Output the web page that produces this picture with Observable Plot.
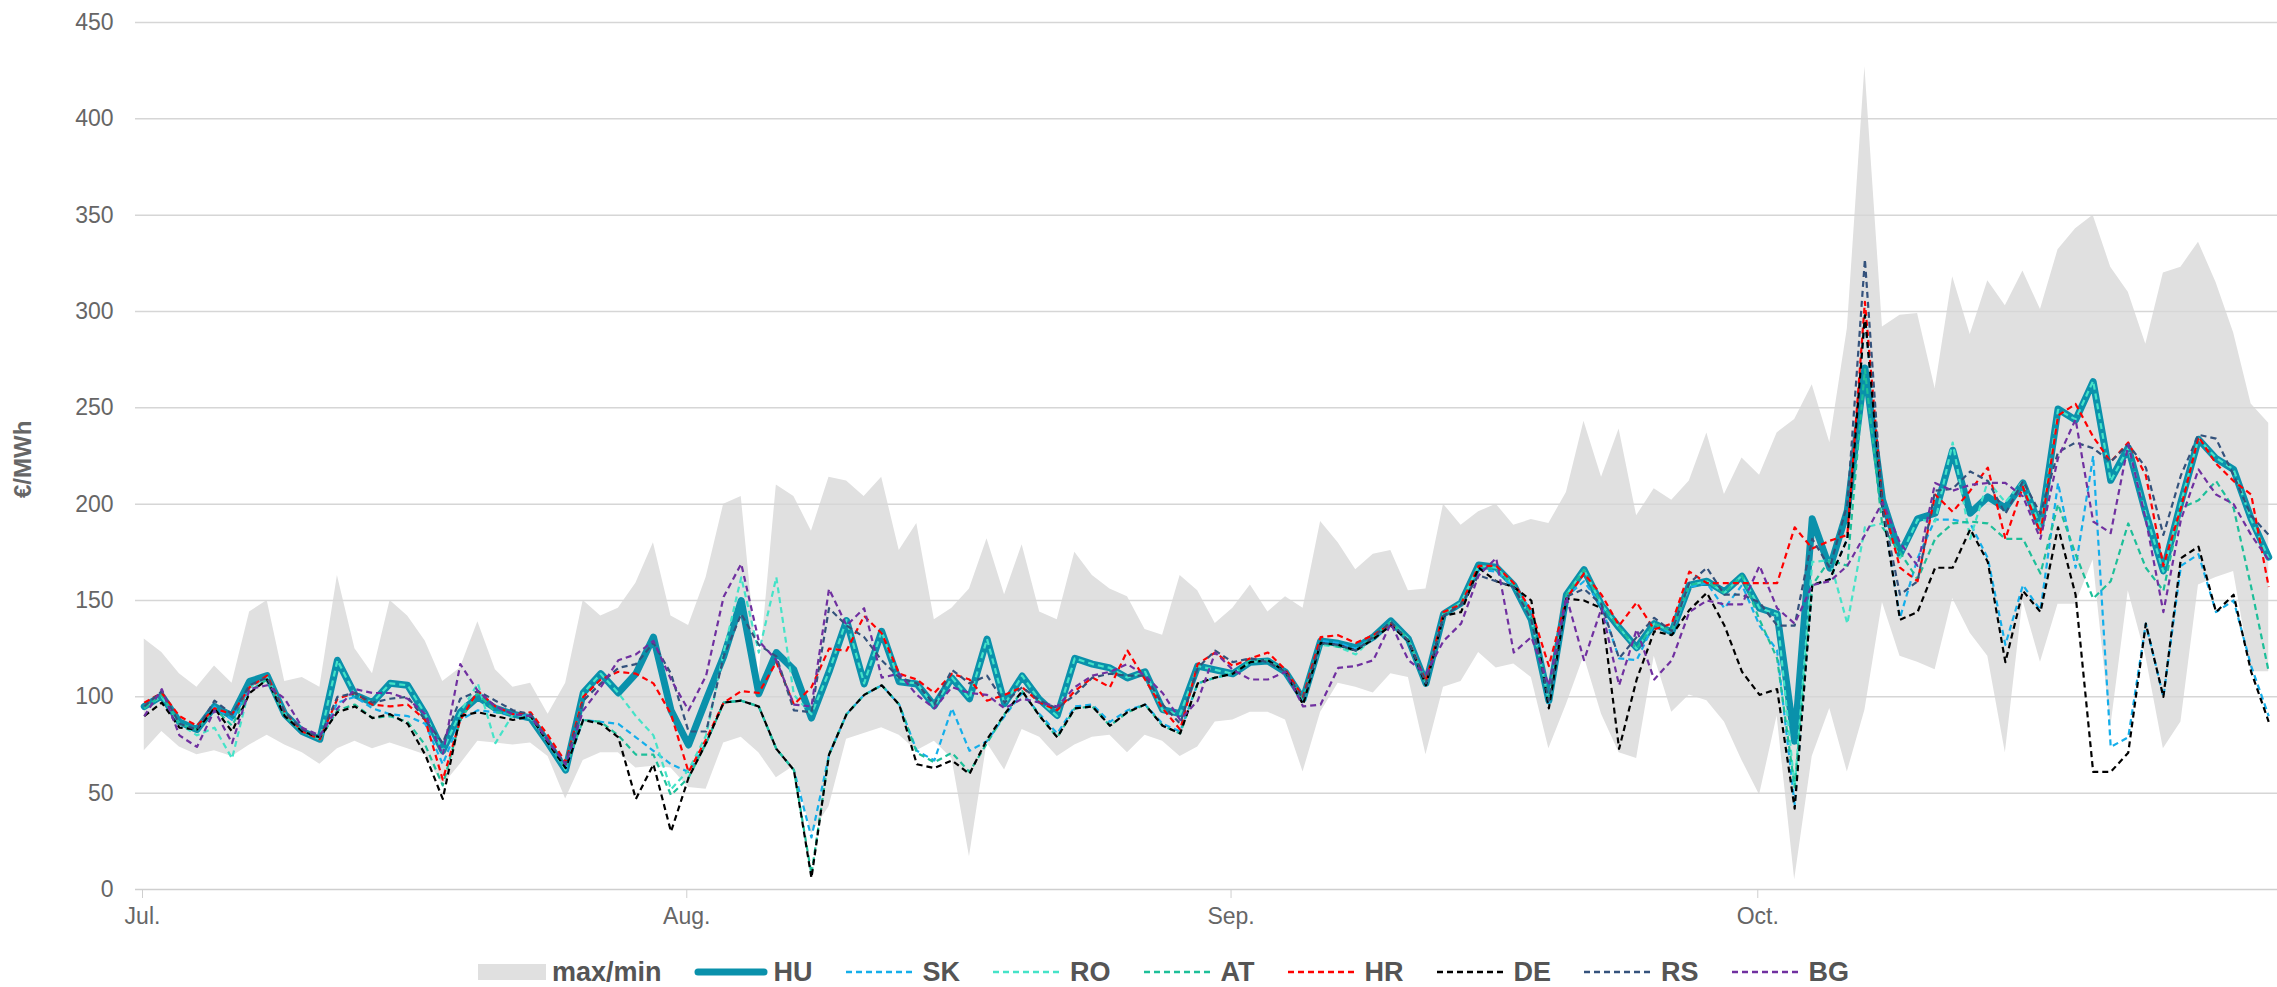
<!DOCTYPE html>
<html>
<head>
<meta charset="utf-8">
<script src="https://cdn.jsdelivr.net/npm/d3@7"></script>
<script src="https://cdn.jsdelivr.net/npm/@observablehq/plot@0.6"></script>
<style>
  html, body { margin: 0; padding: 0; background: #fff; }
  #chart { width: 2277px; height: 935px; }
  #legend { width: 2277px; height: 52px; display: flex; justify-content: center; align-items: center;
            box-sizing: border-box; padding-top: 22px; padding-left: 50px;
            font-family: "Liberation Sans", Arial, sans-serif; font-size: 27px; font-weight: bold; color: #555; }
  .item { display: flex; align-items: center; margin-right: 32px; }
  .item:last-child { margin-right: 0; }
  .item svg { margin-right: 6px; }
</style>
</head>
<body>
<div id="chart"></div>
<div id="legend"></div>
<script>
// ---- categories ----
const startDay = [2021, 6, 1]; // 1 July 2021 (daily values)
const monthTickDates = ["2021-07-01", "2021-08-01", "2021-09-01", "2021-10-01"];
const monthLabels = ["Jul.", "Aug.", "Sep.", "Oct."];
const yTicks = [0, 50, 100, 150, 200, 250, 300, 350, 400, 450];
const seriesNames = ["HU", "SK", "RO", "AT", "HR", "DE", "RS", "BG"];

// ---- values (€/MWh) ----
const MAX = [130,123,112,105,116,107,144,150,108,110,105,163,125,112,150,142,
  129,108,115,139,114,105,107,91,107,150,142,146,159,180,142,137,
  162,200,204,110,210,204,186,214,212,204,214,176,190,140,146,156,
  182,153,179,144,140,175,163,156,152,135,132,163,155,138,146,158,
  144,152,146,191,180,166,174,176,155,156,200,189,196,200,189,192,
  190,206,243,214,239,194,208,202,212,237,205,224,215,237,
  244,262,232,291,427,292,298,299,260,318,288,316,303,321,
  301,332,343,350,323,310,283,320,323,336,315,289,252,242];
const MIN = [72,82,74,70,72,69,75,80,75,71,65,73,77,73,76,73,
  70,54,65,77,76,75,76,69,47,67,71,71,63,64,63,53,
  52,76,79,71,58,64,29,43,78,81,84,80,72,77,68,17,
  76,62,83,79,69,75,79,80,71,80,77,69,74,87,88,92,
  92,88,61,92,107,105,102,112,110,70,105,108,123,115,117,110,
  73,96,121,91,71,68,121,92,101,98,87,67,49,90,
  5,69,94,61,93,149,121,118,114,151,133,121,71,150,
  118,148,148,171,84,155,121,73,87,158,162,165,113,113];
const HU = [95,100.5,87,83,95,90,108,111,91,82,78,119,101,97,107,106,
  91,72,92,100,94,91,89,76,62,102,112,102,112,131,93,75,
  98.5,121,150,101.6,123,114,89,113,139.6,106.7,134,107.8,106.7,95.4,109.8,99,
  130,96.5,110.8,98.5,90.3,120,117,115,109.8,113,93.4,91.3,116,114,112,118,
  118.6,112.8,98.8,129,127.8,125.5,131,139.4,130,107,143,148.7,168.4,167.3,158,140,
  98,153,166,147.6,136,125.5,138,133.6,158,160,154.5,162.6,146,143,
  77,192.4,166.8,196.7,270.7,202.4,174,192.4,195.3,228,195.3,203.8,198,211,
  188,249.4,243.7,263.6,212.4,229.4,195.3,165.4,201,233.7,223.7,218,192.4,172.5];
const SK = [94,101,86,83,95,88,105,110,91,82,78,97,100,94,91,90,
  86,65,88,93,92,91,90,76,62,88,87,86,79,72,65,61,
  76,97,98,95,73,62,27,70,91,101,106,96,72,67,94,72,
  77,90,102,91,81,95,96,87,93,96,86,82,107,110,112,119,
  119,113,99,129,128,125,131,139,130,107,143,149,166,165,157,145,
  97,152,160,147,120,119,138,133,157,159,146,158,137,124,
  44,158,161,182,298,198,141,172,192,192,190,172,127,158,
  145,211,167,225,74,79,138,100,168,174,144,150,116,90];
const RO = [95,100,86,80,84,68,105,110,91,82,78,119,101,97,107,106,
  91,72,92,107,76,91,89,76,62,102,112,102,90,80,52,62,
  80,123,162,123,162,101,91,113,140,107,134,108,107,95,110,99,
  130,96,111,98,90,120,117,115,110,113,93,91,116,114,112,118,
  119,113,99,127,126,122,131,139,130,107,143,149,168,167,158,140,
  98,153,166,148,136,125,138,134,158,160,154,163,146,143,
  53,170,171,138,188,190,172,192,191,232,182,212,201,212,
  188,249,244,264,212,229,195,165,201,234,224,218,192,172];
const AT = [94,101,86,83,94,85,103,109,90,82,78,93,96,89,90,87,
  75,54,88,102,92,91,90,76,63,88,87,80,70,70,49,58,
  76,97,98,95,73,62,8,70,91,101,106,96,71,66,71,61,
  76,91,103,90,79,94,95,85,92,96,85,81,107,110,112,119,
  119,113,99,128,126,124,131,139,130,107,143,149,168,166,158,142,
  98,153,166,148,136,125,138,134,158,160,154,163,140,120,
  53,158,171,168,270,188,175,161,182,190,191,190,182,182,
  164,200,174,151,160,190,167,155,198,202,212,198,157,113];
const HR = [97,102,90,85,94,91,105,111,92,82,78,99,102,96,95,96,
  88,57,88,103,95,91,92,80,66,100,109,113,112,107,91,61,
  78,97,103,102,118,96,105,125,124,142,133,112,109,102,112,109,
  98,101,105,97,93,103,110,105,124,109,94,83,117,123,116,120,
  123,114,100,131,132,128,132,138,129,108,144,148,168,168,159,145,
  116,151,164,153,137,149,135,138,165,159,159,159,159,159,
  188,177,181,184,305,201,167,160,205,196,207,219,182,209,
  185,246,252,235,222,232,215,168,198,235,221,212,205,157];
const DE = [90,97,84,83,94,82,102,109,90,82,79,92,95,89,91,86,
  70,47,90,92,90,88,90,76,63,88,86,79,47,65,30,58,
  76,97,98,95,73,62,6,70,91,101,106,96,65,63,67,60,
  78,91,103,90,79,94,95,85,92,96,85,81,107,110,112,118,
  119,113,96,128,127,124,130,137,129,106,142,144,167,160,157,150,
  94,151,150,146,73,109,134,132,145,154,137,113,101,104,
  42,158,161,182,298,198,140,144,167,167,187,170,118,155,
  144,188,153,61,61,71,138,100,172,178,144,153,113,87];
const RS = [95,103,86,83,98,91,106,110,92,83,79,100,102,97,99,100,
  88,76,99,103,98,93,91,77,65,98,107,115,117,128,112,82,
  82,121,143,127,121,93,92,146,137,131,119,110,107,96,114,107,
  111,97,105,98,94,101,110,112,111,111,96,86,115,124,118,120,
  118,113,99,128,127,124,131,139,129,107,142,148,163,160,157,140,
  98,152,156,148,120,131,141,134,159,167,153,153,149,137,
  137,182,167,200,327,198,153,160,207,208,217,212,195,212,
  195,227,232,229,222,231,219,184,215,236,234,215,194,184];
const BG = [90,104,80,74,93,76,104,106,99,84,80,94,104,102,102,99,
  91,70,117,103,95,91,90,77,65,93,105,119,122,129,109,93,
  111,152,169,129,119,96,95,156,137,146,110,112,101,94,105,102,
  101,94,99,97,95,105,111,113,117,111,102,88,98,123,114,109,
  109,113,95,96,115,116,119,138,119,112,129,138,163,172,123,131,
  106,152,119,146,106,135,109,119,144,150,148,148,168,146,
  138,158,160,168,184,201,180,168,211,207,210,211,211,204,
  182,224,244,191,185,231,192,144,192,218,205,200,184,171];

// ---- styles ----
const colors = {HU: "#0a91ab", SK: "#14aeea", RO: "#45e3c8", AT: "#1dbf99", HR: "#ff0000", DE: "#000000", RS: "#34527c", BG: "#7030a0"};
const bandColor = "#e0e0e0";

const valuesByName = {HU, SK, RO, AT, HR, DE, RS, BG};
const dates = HU.map((_, i) => new Date(Date.UTC(startDay[0], startDay[1], startDay[2] + i, 12)));
const band = dates.map((d, i) => ({date: d, lo: MIN[i], hi: MAX[i]}));
const rows = [];
for (const name of seriesNames) valuesByName[name].forEach((v, i) => rows.push({date: dates[i], value: v, name}));
const tickDates = monthTickDates.map(s => new Date(s + "T00:00:00Z"));

const lineMarks = seriesNames.map(name => Plot.line(rows.filter(r => r.name === name), {
  x: "date", y: "value",
  stroke: colors[name],
  strokeWidth: name === "HU" ? 7 : 2.2,
  strokeDasharray: name === "HU" ? null : "6,4",
  strokeLinejoin: "round",
  strokeLinecap: name === "HU" ? "round" : "butt"
}));

const chart = Plot.plot({
  width: 2277, height: 935,
  marginLeft: 135, marginRight: 0, marginTop: 22, marginBottom: 46,
  style: {fontFamily: "'Liberation Sans', Arial, sans-serif", fontSize: "23px", color: "#666", background: "#fff", overflow: "visible"},
  x: {type: "utc", domain: [new Date(Date.UTC(2021, 6, 1)), new Date(Date.UTC(2021, 9, 31))]},
  y: {domain: [0, 450]},
  marks: [
    Plot.areaY(band, {x: "date", y1: "lo", y2: "hi", fill: bandColor, curve: "linear"}),
    Plot.gridY(yTicks.filter(t => t > 0), {stroke: "#d6d6d6", strokeOpacity: 1, strokeWidth: 1.5}),
    Plot.ruleY([0], {stroke: "#cfcfcf", strokeWidth: 1.5}),
    ...lineMarks,
    Plot.axisY({ticks: yTicks, tickSize: 0, tickPadding: 22, label: null, fill: "#666", fontSize: 23}),
    Plot.axisX({ticks: tickDates, tickFormat: (d, i) => monthLabels[i], tickSize: 9, tickPadding: 9, dx: 7, stroke: "#cfcfcf", fill: "#666", label: null, fontSize: 23}),
    Plot.text(["€/MWh"], {frameAnchor: "left", dx: -112, dy: 42, rotate: -90, fontWeight: "bold", fontSize: 24, fill: "#666"})
  ]
});
document.getElementById("chart").appendChild(chart);

// ---- legend ----
const legend = document.getElementById("legend");
const legendItems = [{name: "max/min", kind: "band"}, ...seriesNames.map(n => ({name: n, kind: n === "HU" ? "thick" : "dash"}))];
for (const it of legendItems) {
  const div = document.createElement("div");
  div.className = "item";
  let sw;
  if (it.kind === "band") sw = `<svg width="68" height="18"><rect x="0" y="1" width="68" height="16" fill="${bandColor}"/></svg>`;
  else if (it.kind === "thick") sw = `<svg width="74" height="18"><line x1="4" y1="9" x2="70" y2="9" stroke="${colors[it.name]}" stroke-width="7" stroke-linecap="round"/></svg>`;
  else sw = `<svg width="72" height="18"><line x1="1" y1="9" x2="71" y2="9" stroke="${colors[it.name]}" stroke-width="2.5" stroke-dasharray="6,4"/></svg>`;
  div.innerHTML = sw + `<span>${it.name}</span>`;
  legend.appendChild(div);
}
</script>
</body>
</html>
